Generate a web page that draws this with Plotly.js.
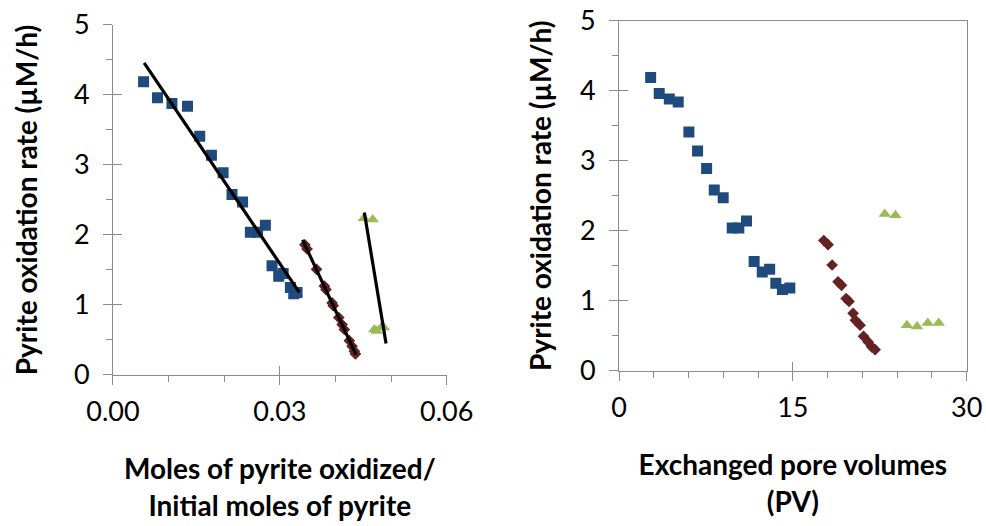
<!DOCTYPE html>
<html>
<head>
<meta charset="utf-8">
<script src="https://cdn.plot.ly/plotly-3.0.1.min.js"></script>
<style>html,body{margin:0;padding:0;background:#fff;}#chart{width:986px;height:526px;}</style>
</head>
<body>
<div id="chart"></div>
<script>
// ---- Data ----
// Series 1 (blue squares)
const blueFrac = [0.0055, 0.0080, 0.0106, 0.0134, 0.0156, 0.0177, 0.0198, 0.0214, 0.0233, 0.0247, 0.0260, 0.0274, 0.0286, 0.0298, 0.0306, 0.0319, 0.0325, 0.0331];
const bluePV   = [2.73, 3.47, 4.34, 5.11, 6.03, 6.78, 7.56, 8.22, 8.99, 9.77, 10.34, 11.0, 11.66, 12.36, 13.0, 13.53, 14.1, 14.74];
const blueRate = [4.19, 3.96, 3.88, 3.84, 3.41, 3.14, 2.89, 2.58, 2.47, 2.04, 2.04, 2.14, 1.56, 1.41, 1.45, 1.25, 1.16, 1.18];
// Series 2 (dark red diamonds)
const redFrac = [0.0345, 0.0349, 0.0366, 0.0380, 0.0383, 0.0394, 0.0396, 0.0406, 0.0412, 0.0416, 0.0425, 0.0430, 0.0434, 0.0436];
const redPV   = [17.67, 18.04, 18.39, 18.9, 19.2, 19.6, 19.85, 20.2, 20.4, 20.8, 21.1, 21.5, 21.8, 22.1];
const redRate = [1.86, 1.80, 1.51, 1.27, 1.22, 1.03, 0.99, 0.82, 0.72, 0.65, 0.49, 0.41, 0.34, 0.30];
// Series 3 (green triangles)
const greenFrac = [0.0451, 0.0467, 0.0470, 0.0474, 0.0482, 0.0487];
const greenPV   = [22.93, 23.85, 24.85, 25.72, 26.64, 27.59];
const greenRate = [2.24, 2.22, 0.65, 0.63, 0.68, 0.68];
// Linear trendlines (end points)
const blueTrendX = [0.0056, 0.0335];
const blueTrendY = [4.46, 1.18];
const redTrendX = [0.0341, 0.0437];
const redTrendY = [1.93, 0.29];
const greenTrendX = [0.0452, 0.0491];
const greenTrendY = [2.32, 0.45];
// Axis labels
const yTitle = 'Pyrite oxidation rate (µM/h)';
const xTitleLeft = 'Moles of pyrite oxidized/<br>Initial moles of pyrite';
const xTitleRight = 'Exchanged pore volumes<br>(PV)';

const BLUE = '#1f4a7e', RED = '#652222', GREEN = '#9bbb59';
const AX = '#8c8c8c';
const FONT = 'Lato, "Open Sans", sans-serif';

function sc(x, y, xa, ya, sym, color, size) {
  return {x: x, y: y, xaxis: xa, yaxis: ya, type: 'scatter', mode: 'markers',
    marker: {symbol: sym, color: color, size: size, line: {width: 0}}, showlegend: false, hoverinfo: 'x+y'};
}
function tl(x, y) {
  return {x: x, y: y, xaxis: 'x', yaxis: 'y', type: 'scatter', mode: 'lines',
    line: {color: '#000', width: 3.2}, showlegend: false, hoverinfo: 'skip'};
}

const traces = [
  sc(blueFrac, blueRate, 'x', 'y', 'square', BLUE, 11),
  sc(redFrac, redRate, 'x', 'y', 'diamond', RED, 9),
  sc(greenFrac, greenRate, 'x', 'y', 'triangle-up', GREEN, 11),
  tl(blueTrendX, blueTrendY),
  tl(redTrendX, redTrendY),
  tl(greenTrendX, greenTrendY),
  sc(bluePV, blueRate, 'x2', 'y2', 'square', BLUE, 11),
  sc(redPV, redRate, 'x2', 'y2', 'diamond', RED, 9),
  sc(greenPV, greenRate, 'x2', 'y2', 'triangle-up', GREEN, 11),
  // empty traces that carry the inner half of the crossing major ticks
  {x: [], y: [], xaxis: 'x3', yaxis: 'y3', type: 'scatter', mode: 'markers', showlegend: false},
  {x: [], y: [], xaxis: 'x4', yaxis: 'y4', type: 'scatter', mode: 'markers', showlegend: false}
];

const tickFont = {family: FONT, size: 27, color: '#000'};
const titleFont = {family: FONT, size: 28, color: '#000', weight: 'bold'};

function baseAxis(extra) {
  return Object.assign({
    showgrid: false, zeroline: false, showline: true, linecolor: AX, linewidth: 1,
    ticks: 'outside', ticklen: 9, tickwidth: 1, tickcolor: AX, tickfont: tickFont,
    fixedrange: true
  }, extra);
}
function innerAxis(extra) {
  return Object.assign({
    showgrid: false, zeroline: false, showline: false, showticklabels: false,
    ticks: 'inside', ticklen: 9, tickwidth: 1, tickcolor: AX, fixedrange: true
  }, extra);
}

const layout = {
  width: 986, height: 526,
  margin: {l: 0, r: 0, t: 0, b: 0},
  paper_bgcolor: '#fff', plot_bgcolor: 'rgba(0,0,0,0)',
  font: {family: FONT, color: '#000'},
  showlegend: false,
  xaxis: baseAxis({domain: [0.1146, 0.4530], range: [0, 0.06], tick0: 0, dtick: 0.03, tickformat: '.2f',
    anchor: 'y', ticklabelstandoff: 4,
    minor: {dtick: 0.01, ticks: 'outside', ticklen: 6, tickcolor: AX, showgrid: false},
    title: {text: xTitleLeft, font: titleFont, standoff: 33}}),
  yaxis: baseAxis({domain: [0.2871, 0.9525], range: [0, 5], tick0: 0, dtick: 1, anchor: 'x',
    ticklabelstandoff: 8,
    minor: {dtick: 0.5, ticks: 'outside', ticklen: 6, tickcolor: AX, showgrid: false},
    title: {text: yTitle, font: titleFont, standoff: 28}}),
  xaxis2: baseAxis({domain: [0.6278, 0.9804], range: [0, 30], tick0: 0, dtick: 15, anchor: 'y2',
    mirror: true, ticklabelstandoff: 4,
    minor: {dtick: 3, ticks: 'outside', ticklen: 6, tickcolor: AX, showgrid: false},
    title: {text: xTitleRight, font: titleFont, standoff: 33}}),
  yaxis2: baseAxis({domain: [0.2953, 0.9606], range: [0, 5], tick0: 0, dtick: 1, anchor: 'x2',
    mirror: true, ticklabelstandoff: 8,
    minor: {dtick: 0.5, ticks: 'outside', ticklen: 6, tickcolor: AX, showgrid: false},
    title: {text: yTitle, font: titleFont, standoff: 20}}),
  xaxis3: innerAxis({overlaying: 'x', anchor: 'y3', range: [0, 0.06], tick0: 0, dtick: 0.03}),
  yaxis3: innerAxis({overlaying: 'y', anchor: 'x3', range: [0, 5], tick0: 0, dtick: 1}),
  xaxis4: innerAxis({overlaying: 'x2', anchor: 'y4', range: [0, 30], tick0: 0, dtick: 15}),
  yaxis4: innerAxis({overlaying: 'y2', anchor: 'x4', range: [0, 5], tick0: 0, dtick: 1})
};

Plotly.newPlot('chart', traces, layout, {displayModeBar: false, staticPlot: true});
</script>
</body>
</html>
